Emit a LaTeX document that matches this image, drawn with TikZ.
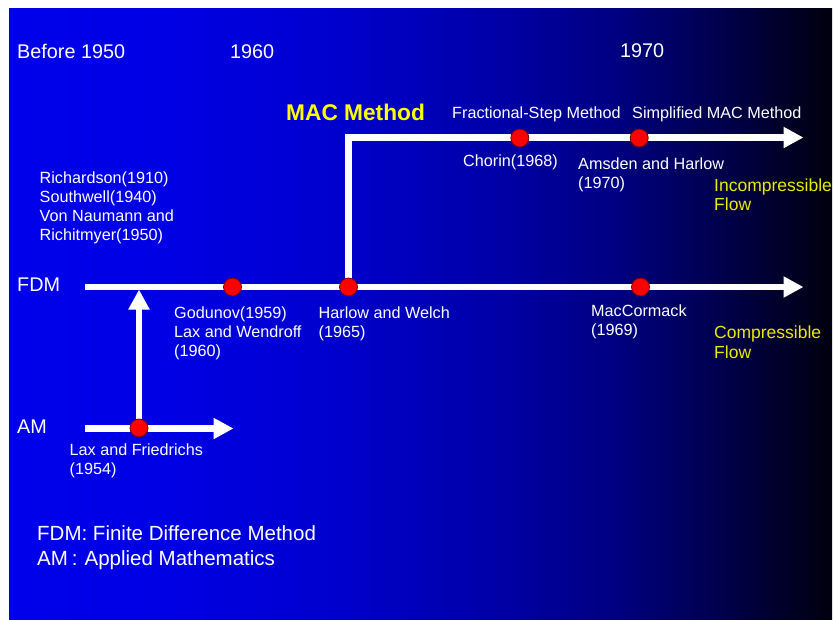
\documentclass[tikz,border=0pt]{standalone}
\usepackage{fontspec}
\setmainfont{Liberation Sans}
\usetikzlibrary{arrows.meta}
\definecolor{shadeA}{RGB}{0,0,235}
\definecolor{shadeB}{RGB}{0,0,228}
\definecolor{shadeC}{RGB}{0,0,205}
\definecolor{shadeD}{RGB}{0,0,165}
\definecolor{shadeE}{RGB}{0,0,128}
\definecolor{shadeF}{RGB}{0,0,78}
\definecolor{shadeG}{RGB}{0,0,14}
\definecolor{macYellow}{RGB}{255,255,0}
\definecolor{flowYellow}{RGB}{235,235,0}
\definecolor{dotRim}{RGB}{110,0,0}
\pgfdeclarehorizontalshading{nightShade}{100bp}{color(0bp)=(shadeA); color(25bp)=(shadeA); color(35bp)=(shadeB); color(45bp)=(shadeC); color(55bp)=(shadeD); color(62bp)=(shadeE); color(68bp)=(shadeF); color(75bp)=(shadeG); color(100bp)=(shadeG)}
\pgfdeclarelayer{front}
\pgfsetlayers{main,front}

\begin{document}
\begin{tikzpicture}[x=1pt,y=-1pt]

  \tikzstyle{yearNode} = [white, anchor=base west, inner sep=0pt, font=\fontsize{19.8}{24}\selectfont];
  \tikzstyle{eventNode} = [white, anchor=base west, inner sep=0pt, align=left, font=\fontsize{16.2}{18.9}\selectfont];
  \tikzstyle{flowNode} = [flowYellow, anchor=base west, inner sep=0pt, align=left, font=\fontsize{17.5}{19.5}\selectfont];
  \tikzstyle{methodNode} = [macYellow, anchor=base west, inner sep=0pt, font=\bfseries\fontsize{22.7}{27}\selectfont];
  \tikzstyle{legendNode} = [white, anchor=base west, inner sep=0pt, align=left, font=\fontsize{20.5}{24.3}\selectfont];
  \tikzstyle{eventDot} = [circle, fill=red, draw=dotRim, line width=0.8pt, minimum size=18pt, inner sep=0pt];
  \tikzstyle{timeEdge} = [white, line width=6.5pt, -{Triangle[width=20pt,length=20pt]}];

  \useasboundingbox (0,0) rectangle (834,619);
  \shade[shading=nightShade] (9,8) rectangle (832,619);

  % years and branches
  \node[yearNode] (before) at (17,58) {Before 1950};
  \node[yearNode] (sixties) at (230,58) {1960};
  \node[yearNode] (seventies) at (620,57.5) {1970};
  \node[yearNode] (fdm) at (17,291) {FDM};
  \node[yearNode] (am) at (17,433.3) {AM};

  % incompressible branch (multi-line nodes sit on their last line)
  \node[methodNode] (mac) at (286,120) {MAC Method};
  \node[eventNode] (fractional) at (452,118) {Fractional-Step Method};
  \node[eventNode] (simplified) at (632,118) {Simplified MAC Method};
  \node[eventNode] (chorin) at (463,166) {Chorin(1968)};
  \node[eventNode] (amsden) at (578,188) {Amsden and Harlow\\(1970)};
  \node[flowNode] (incompressible) at (714,210.7) {Incompressible\\Flow};

  % compressible branch
  \node[eventNode] (pioneers) at (39.5,240) {Richardson(1910)\\Southwell(1940)\\Von Naumann and\\Richitmyer(1950)};
  \node[eventNode] (godunov) at (174,356) {Godunov(1959)\\Lax and Wendroff\\(1960)};
  \node[eventNode] (harlow) at (318.5,337.7) {Harlow and Welch\\(1965)};
  \node[eventNode] (maccormack) at (591,335) {MacCormack\\(1969)};
  \node[flowNode] (compressible) at (714,358.3) {Compressible\\Flow};
  \node[eventNode] (friedrichs) at (69.5,474) {Lax and Friedrichs\\(1954)};

  \node[legendNode] (legend) at (37,565) {FDM: Finite Difference Method\\AM\hspace{4pt}:\hspace{7pt}Applied Mathematics};

  \begin{pgfonlayer}{front}
    \node[eventDot] (chorinDot) at (519.8,138) {};
    \node[eventDot] (amsdenDot) at (639.2,138) {};
    \node[eventDot] (godunovDot) at (232.5,287) {};
    \node[eventDot] (harlowDot) at (348.5,287) {};
    \node[eventDot] (maccormackDot) at (640.5,287) {};
    \node[eventDot] (friedrichsDot) at (139,428) {};
  \end{pgfonlayer}

  \coordinate (fdmStart) at (85,287);
  \coordinate (fdmEnd) at (803.5,287);
  \coordinate (amStart) at (85,428.5);
  \coordinate (amEnd) at (233.5,428.5);
  \coordinate (fdmJoin) at (139,289.5);
  \coordinate (macEnd) at (803.5,137.5);

  \draw[timeEdge] (fdmStart) -- (fdmEnd);
  \draw[timeEdge] (amStart) -- (amEnd);
  \draw[timeEdge] (friedrichsDot.center) -- (fdmJoin);
  \draw[timeEdge] (harlowDot.center) |- (macEnd);
\end{tikzpicture}
\end{document}
